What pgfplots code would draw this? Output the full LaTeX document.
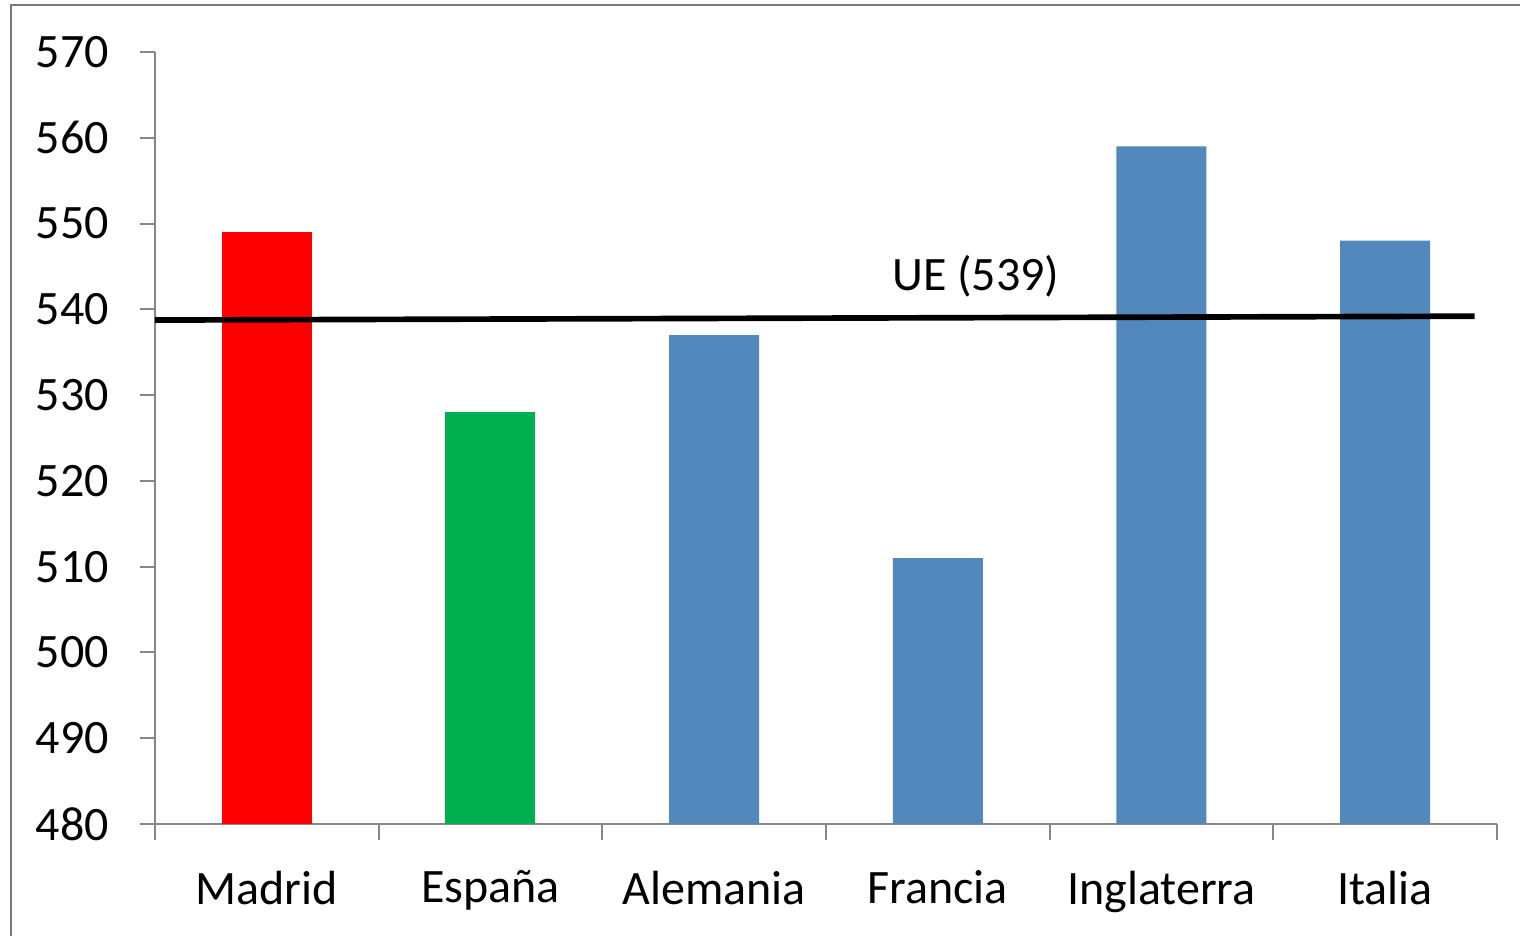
\documentclass[border=0pt]{standalone}
\usepackage{pgfplots}
\pgfplotsset{compat=1.18}
\usepackage{fontspec}
\setmainfont{Carlito}
\definecolor{barblue}{RGB}{82,136,187}
\definecolor{barred}{RGB}{255,0,0}
\definecolor{bargreen}{RGB}{0,176,80}
\definecolor{axgray}{RGB}{134,134,134}
\begin{document}
\begin{tikzpicture}
\useasboundingbox (0,0) rectangle (456pt,280.8pt);
\draw[axgray!90!black, line width=0.7pt] (3.3pt,0) -- (3.3pt,279.3pt) -- (456pt,279.3pt);
\begin{axis}[
  at={(46.5pt,33.6pt)}, anchor=south west,
  scale only axis, width=402.6pt, height=231.6pt,
  xmin=0.5, xmax=6.5, ymin=480, ymax=570,
  axis x line=bottom, axis y line=left,
  axis line style={-, axgray, line width=0.6pt},
  ytick={480,490,...,570},
  xtick={1,...,6},
  xticklabels={Madrid,España,Alemania,Francia,Inglaterra,Italia},
  minor xtick={0.5,1.5,...,6.5},
  major x tick style={draw=none},
  minor x tick style={axgray, line width=0.6pt},
  major y tick style={axgray, line width=0.6pt},
  tick align=outside,
  major tick length=4.5pt, minor tick length=4.8pt,
  /pgf/number format/assume math mode=true,
  /pgf/number format/1000 sep={},
  tick label style={font=\fontsize{14.4}{17}\selectfont, text=black},
  yticklabel style={xshift=-5.8pt},
  xticklabel style={yshift=-6pt},
  clip=false,
]
\addplot[ybar, bar width=27pt, bar shift=0pt, fill=barred, draw=none] coordinates {(1,549)};
\addplot[ybar, bar width=27pt, bar shift=0pt, fill=bargreen, draw=none] coordinates {(2,528)};
\addplot[ybar, bar width=27pt, bar shift=0pt, fill=barblue, draw=none] coordinates {(3,537) (4,511) (5,559) (6,548)};
\addplot[black, line width=1.7pt] coordinates {(0.5,538.75) (6.4,539.2)};
\node[font=\fontsize{14.4}{17}\selectfont] at (axis cs:4.17,543.9) {UE (539)};
\end{axis}
\end{tikzpicture}
\end{document}
